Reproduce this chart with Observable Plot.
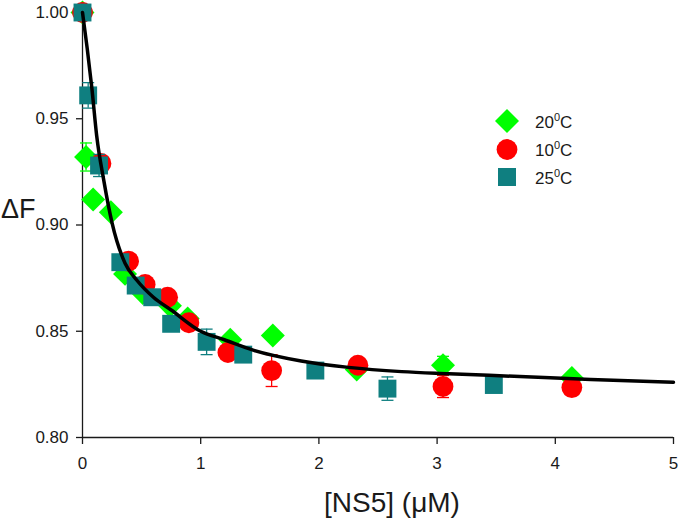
<!DOCTYPE html>
<html><head><meta charset="utf-8">
<script src="https://cdn.jsdelivr.net/npm/d3@7"></script>
<script src="https://cdn.jsdelivr.net/npm/@observablehq/plot@0.6"></script>
<style>
body{margin:0;background:#fff;}
#chart{position:relative;width:680px;height:521px;}
</style>
</head><body><div id="chart"></div>
<script>
// 20°C (green diamonds)
const x20 = [0, 0.03, 0.09, 0.24, 0.36, 0.51, 0.74, 0.89, 1.25, 1.61, 2.32, 3.05, 4.14];
const y20 = [1.000, 0.932, 0.912, 0.906, 0.877, 0.868, 0.862, 0.856, 0.846, 0.848, 0.832, 0.834, 0.828];
const e20 = [0, 0.0066, 0, 0, 0, 0, 0, 0, 0, 0, 0, 0.0042, 0];
// 10°C (red circles)
const x10 = [0, 0.156, 0.39, 0.53, 0.72, 0.90, 1.23, 1.60, 2.33, 3.05, 4.14];
const y10 = [1.000, 0.929, 0.883, 0.872, 0.866, 0.854, 0.840, 0.8315, 0.834, 0.824, 0.8235];
const e10 = [0, 0, 0, 0, 0, 0, 0, 0.0075, 0, 0.0052, 0];
// 25°C (teal squares)
const x25 = [0, 0.048, 0.14, 0.32, 0.45, 0.59, 0.75, 1.05, 1.36, 1.97, 2.58, 3.48];
const y25 = [1.000, 0.961, 0.928, 0.8825, 0.8715, 0.866, 0.8535, 0.845, 0.839, 0.8315, 0.823, 0.8247];
const e25 = [0, 0.006, 0.0052, 0, 0, 0, 0, 0.006, 0, 0, 0.0055, 0];
// fitted curve
const xFit = [0, 0.04, 0.08, 0.12, 0.18, 0.25, 0.36, 0.46, 0.6, 0.75, 1.0, 1.2, 1.45, 1.85, 2.25, 2.7, 3.1, 3.7, 4.3, 5.0];
const yFit = [1.000, 0.983, 0.964, 0.942, 0.921, 0.901, 0.882, 0.874, 0.866, 0.860, 0.850, 0.846, 0.841, 0.836, 0.833, 0.831, 0.830, 0.8287, 0.8273, 0.826];

const xTicks = [0, 1, 2, 3, 4, 5];
const yTicks = [0.80, 0.85, 0.90, 0.95, 1.00];
const legendLabels = ["20", "10", "25"];

const GREEN = "#00ff00", RED = "#ff0000", TEAL = "#0f7f80";

const rows = (xs, ys, es) => xs.map((x, i) => ({x, y: ys[i], e: es ? es[i] : 0}));
const d20 = rows(x20, y20, e20), d10 = rows(x10, y10, e10), d25 = rows(x25, y25, e25);
const fit = rows(xFit, yFit);

const capSymbol = {draw(ctx, size) { const w = Math.sqrt(size / Math.PI); ctx.moveTo(-w, 0); ctx.lineTo(w, 0); }};

function seriesMarks(data, color, symbol, r) {
  const err = data.filter(d => d.e > 0);
  return [
    Plot.ruleX(err, {x: "x", y1: d => d.y - d.e, y2: d => d.y + d.e, stroke: color, strokeWidth: 1.3}),
    Plot.dot(err, {x: "x", y: d => d.y + d.e, symbol: capSymbol, r: 6, stroke: color, strokeWidth: 1.3, fill: "none"}),
    Plot.dot(err, {x: "x", y: d => d.y - d.e, symbol: capSymbol, r: 6, stroke: color, strokeWidth: 1.3, fill: "none"}),
    Plot.dot(data, {x: "x", y: "y", symbol, r, fill: color, stroke: "none"})
  ];
}

const FONT = "'Liberation Sans', Arial, sans-serif";

const plot = Plot.plot({
  width: 680, height: 521,
  marginLeft: 82, marginRight: 7, marginTop: 12, marginBottom: 84,
  style: {fontFamily: FONT, background: "white", color: "#1a1a1a", overflow: "visible"},
  x: {domain: [0, 5]},
  y: {domain: [0.80, 1.00]},
  marks: [
    Plot.axisY({ticks: yTicks, tickSize: 6, tickPadding: 8, tickFormat: d3.format(".2f"), fontSize: 17, label: null, strokeWidth: 1.3}),
    Plot.axisX({ticks: xTicks, tickSize: 7, tickPadding: 12, tickFormat: d3.format("d"), fontSize: 17, label: null, strokeWidth: 1.3}),
    Plot.ruleX([0], {stroke: "#1a1a1a", strokeWidth: 1.3}),
    Plot.ruleY([0.80], {stroke: "#1a1a1a", strokeWidth: 1.3}),
    ...seriesMarks(d20, GREEN, d3.symbolDiamond2, 10.8),
    ...seriesMarks(d10, RED, d3.symbolCircle, 10.4),
    ...seriesMarks(d25, TEAL, d3.symbolSquare, 10.1),
    Plot.line(fit, {x: "x", y: "y", curve: "monotone-x", stroke: "black", strokeWidth: 3.5})
  ]
});

document.getElementById("chart").appendChild(plot);
const svg = d3.select(plot);

// axis titles
svg.append("text").attr("x", 1).attr("y", 218).attr("font-size", 27).attr("font-family", FONT)
  .attr("text-anchor", "start").attr("fill", "#1a1a1a").text("\u0394F");
svg.append("text").attr("x", 392).attr("y", 512).attr("font-size", 28).attr("font-family", FONT)
  .attr("fill", "#1a1a1a").attr("text-anchor", "middle").text("[NS5] (\u03bcM)");

// legend
const legend = [
  {label: legendLabels[0], color: GREEN, type: d3.symbolDiamond2, size: Math.pow(12 / 0.62625, 2), cy: 121},
  {label: legendLabels[1], color: RED, type: d3.symbolCircle, size: Math.PI * 10.4 * 10.4, cy: 149.5},
  {label: legendLabels[2], color: TEAL, type: d3.symbolSquare, size: 18 * 18, cy: 177}
];
const lg = svg.append("g");
legend.forEach(item => {
  lg.append("path").attr("d", d3.symbol(item.type, item.size)()).attr("fill", item.color)
    .attr("transform", `translate(507,${item.cy})`);
  const t = lg.append("text").attr("x", 535).attr("y", item.cy + 6.5).attr("font-size", 17)
    .attr("font-family", FONT).attr("text-anchor", "start").attr("fill", "#1a1a1a");
  t.append("tspan").text(item.label);
  t.append("tspan").attr("font-size", 11).attr("dy", -7).text("0");
  t.append("tspan").attr("dy", 7).text("C");
});
</script>
</body></html>
